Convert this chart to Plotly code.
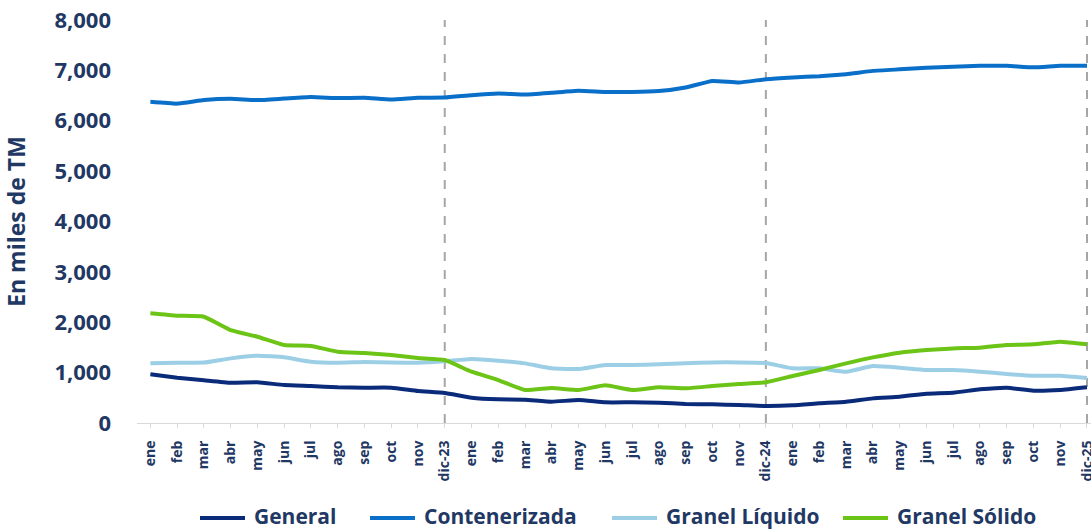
import plotly.graph_objects as go

months = ["ene", "feb", "mar", "abr", "may", "jun", "jul", "ago", "sep", "oct", "nov"]
categories = months + ["dic-23"] + months + ["dic-24"] + months + ["dic-25"]
x_idx = list(range(len(categories)))

general = [966, 900, 850, 800, 807, 754, 734, 708, 701, 701, 635, 595,
           503, 470, 463, 423, 456, 410, 410, 403, 377, 370, 357, 337,
           350, 390, 423, 489, 523, 582, 602, 668, 701, 641, 655, 708]
contenerizada = [6375, 6340, 6410, 6435, 6410, 6440, 6470, 6450, 6455, 6420, 6455, 6460,
                 6508, 6540, 6520, 6555, 6595, 6570, 6570, 6590, 6660, 6790, 6760, 6825,
                 6860, 6885, 6925, 6990, 7020, 7050, 7070, 7090, 7090, 7060, 7090, 7090]
granel_liquido = [1184, 1197, 1200, 1283, 1336, 1303, 1217, 1197, 1210, 1200, 1197, 1225,
                  1270, 1237, 1184, 1085, 1071, 1151, 1151, 1164, 1184, 1203, 1203, 1190,
                  1085, 1085, 1019, 1131, 1098, 1052, 1052, 1019, 972, 939, 939, 893]
granel_solido = [2177, 2130, 2110, 1845, 1713, 1548, 1528, 1415, 1389, 1349, 1290, 1250,
                 1019, 853, 655, 694, 655, 747, 655, 708, 688, 734, 774, 810,
                 932, 1052, 1184, 1303, 1396, 1448, 1481, 1495, 1548, 1561, 1614, 1561]

series_names = ["General", "Contenerizada", "Granel Líquido", "Granel Sólido"]
series_values = [general, contenerizada, granel_liquido, granel_solido]
series_colors = ["#0A2A7A", "#0A6FC8", "#9CCFE6", "#6CC417"]
separators = ["dic-23", "dic-24", "dic-25"]

navy = "#1F3864"
font_family = "Open Sans, Liberation Sans, sans-serif"

W, H = 1091, 529
ML, MR, MT = 137, 0, 20
MB = H - 423
PW, PH = W - ML - MR, H - MT - MB


def px_to_paper_x(px):
    return (px - ML) / PW


def px_to_paper_y(py):
    return (H - MB - py) / PH


fig = go.Figure()
for name, vals, color in zip(series_names, series_values, series_colors):
    fig.add_trace(go.Scatter(
        x=x_idx, y=vals, mode="lines", name=name, showlegend=False,
        line=dict(color=color, width=4, shape="spline", smoothing=0.4),
    ))

for lab in separators:
    xi = categories.index(lab)
    fig.add_shape(type="line", xref="x", yref="paper", x0=xi, x1=xi, y0=0, y1=1,
                  line=dict(color="#A6A6A6", width=2, dash="dash"), layer="below")

# custom legend (layout positions in page pixels)
legend_line_start = [200, 370, 612, 843]
legend_line_len = 45
legend_text_gap = 7
legend_y = 516
for name, color, x0 in zip(series_names, series_colors, legend_line_start):
    fig.add_shape(type="line", xref="paper", yref="paper",
                  x0=px_to_paper_x(x0), x1=px_to_paper_x(x0 + legend_line_len),
                  y0=px_to_paper_y(legend_y + 2), y1=px_to_paper_y(legend_y + 2),
                  line=dict(color=color, width=4))
    fig.add_annotation(xref="paper", yref="paper",
                       x=px_to_paper_x(x0 + legend_line_len + legend_text_gap),
                       y=px_to_paper_y(legend_y), xanchor="left", yanchor="middle",
                       text=name, showarrow=False,
                       font=dict(size=21, color=navy, family=font_family, weight="bold"))

fig.update_layout(
    width=W, height=H,
    margin=dict(l=ML, r=MR, t=MT, b=MB, autoexpand=False),
    paper_bgcolor="white", plot_bgcolor="white",
    font=dict(family=font_family, color=navy, size=14, weight="bold"),
    showlegend=False,
)
fig.update_xaxes(
    tickmode="array", tickvals=x_idx, ticktext=categories,
    range=[-0.5, 35.15], tickangle=-90, automargin=False,
    showgrid=False, zeroline=False,
    showline=True, linecolor="#D9D9D9", linewidth=1,
    ticks="outside", ticklen=4, tickcolor="#D9D9D9",
    ticklabelstandoff=7, ticklabeloverflow="allow",
    tickfont=dict(size=14, color=navy, family=font_family, weight="bold"),
)
fig.update_yaxes(
    range=[0, 8000], dtick=1000, tickformat=",d", automargin=False,
    showgrid=False, zeroline=False, showline=False,
    ticklabelstandoff=25, ticklabeloverflow="allow",
    tickfont=dict(size=22, color=navy, family=font_family, weight="bold"),
    title=dict(text="En miles de TM", standoff=28,
               font=dict(size=23, color=navy, family=font_family, weight="bold")),
)

fig.write_html(
    "out.html",
    config={"displayModeBar": False},
    post_script="document.body.style.margin='0';document.body.style.overflow='hidden';",
)
